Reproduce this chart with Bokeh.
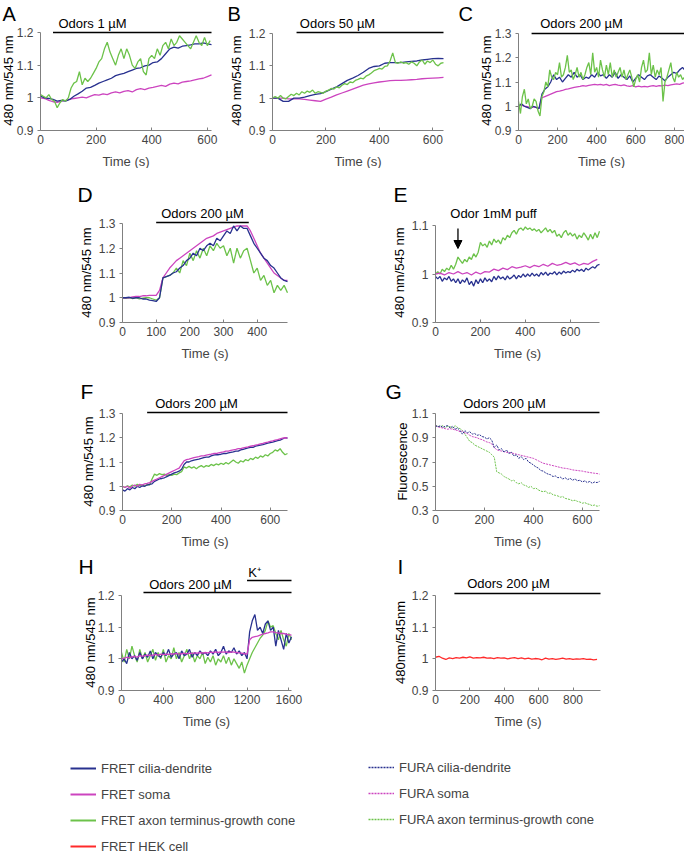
import numpy as np
from bokeh.plotting import figure
from bokeh.layouts import column, row
from bokeh.models import (Label, Arrow, NormalHead, FixedTicker, Legend, LegendItem,
                          Range1d, CustomJSTickFormatter, LinearAxis)
from bokeh.embed import file_html
from bokeh.resources import INLINE

# ======================= DATA =======================
# sampling interval of each trace (s); times = index * interval
A_dt_blue, A_dt_magenta, A_dt_green = 15, 15, 10
A_blue = [1.005, 1.0, 0.998, 0.995, 0.99, 0.992, 0.99, 0.995, 1.005, 1.012, 1.02, 1.03, 1.032, 1.038,
          1.045, 1.05, 1.055, 1.06, 1.068, 1.072, 1.075, 1.08, 1.085, 1.09, 1.092, 1.098, 1.1, 1.108,
          1.11, 1.12, 1.135, 1.15, 1.155, 1.152, 1.158, 1.16, 1.162, 1.165, 1.165, 1.168, 1.165, 1.163]
A_magenta = [1.0, 0.998, 0.992, 0.988, 0.986, 0.99, 0.992, 0.995, 0.998, 1.0, 1.002, 1.0, 1.005, 1.01,
             1.008, 1.012, 1.01, 1.015, 1.018, 1.015, 1.02, 1.022, 1.018, 1.025, 1.028, 1.025, 1.03,
             1.032, 1.035, 1.038, 1.035, 1.042, 1.045, 1.043, 1.048, 1.05, 1.052, 1.055, 1.058, 1.06,
             1.065, 1.07]
A_green = [1.01, 1.005, 1.0, 1.01, 0.995, 0.99, 0.97, 0.985, 0.995, 0.99, 1.0, 1.03, 1.045, 1.05, 1.08,
           1.04, 1.06, 1.05, 1.06, 1.075, 1.09, 1.11, 1.12, 1.15, 1.17, 1.14, 1.12, 1.1, 1.13, 1.15,
           1.12, 1.15, 1.13, 1.1, 1.09, 1.11, 1.12, 1.08, 1.07, 1.12, 1.13, 1.12, 1.15, 1.13, 1.16,
           1.17, 1.15, 1.18, 1.16, 1.17, 1.19, 1.18, 1.17, 1.16, 1.15, 1.17, 1.19, 1.17, 1.16, 1.185,
           1.16, 1.175]
A_odor = (45, 615)

B_dt_blue, B_dt_magenta, B_dt_green = 20, 20, 10
B_blue = [1.0, 1.0, 0.99, 0.99, 1.0, 1.0, 1.003, 1.008, 1.012, 1.014, 1.02, 1.028, 1.035, 1.045, 1.055,
          1.062, 1.07, 1.08, 1.092, 1.098, 1.1, 1.108, 1.11, 1.11, 1.11, 1.112, 1.114, 1.115, 1.118,
          1.12, 1.122, 1.123, 1.122]
B_magenta = [1.0, 1.0, 1.0, 0.998, 0.998, 0.998, 0.996, 0.994, 0.992, 0.99, 0.997, 1.003, 1.01, 1.016,
             1.022, 1.028, 1.034, 1.04, 1.044, 1.047, 1.05, 1.052, 1.054, 1.055, 1.055, 1.056, 1.057,
             1.058, 1.06, 1.061, 1.062, 1.063, 1.064]
B_green = [1.0, 1.005, 1.0, 1.008, 1.0, 0.998, 1.005, 1.012, 1.008, 1.015, 1.01, 1.02, 1.015, 1.022,
           1.018, 1.025, 1.015, 1.02, 1.018, 1.015, 1.022, 1.025, 1.03, 1.028, 1.035, 1.032, 1.04,
           1.045, 1.042, 1.05, 1.048, 1.055, 1.058, 1.062, 1.06, 1.068, 1.072, 1.078, 1.085, 1.088,
           1.092, 1.09, 1.098, 1.1, 1.115, 1.14, 1.11, 1.108, 1.112, 1.108, 1.11, 1.105, 1.112, 1.108,
           1.1, 1.112, 1.118, 1.105, 1.115, 1.11, 1.118, 1.105, 1.1, 1.108, 1.11]
B_odor = (90, 640)

C_dt_blue, C_dt_magenta, C_dt_green = 15, 15, 10
C_blue = [1.0, 1.01, 1.0, 0.995, 0.99, 1.0, 0.995, 0.99, 1.05, 1.07, 1.08, 1.1, 1.13, 1.11, 1.12, 1.1,
          1.115, 1.13, 1.12, 1.14, 1.12, 1.13, 1.11, 1.12, 1.115, 1.13, 1.12, 1.14, 1.125, 1.13, 1.115,
          1.13, 1.12, 1.14, 1.115, 1.13, 1.12, 1.11, 1.125, 1.1, 1.115, 1.13, 1.12, 1.11, 1.125, 1.13,
          1.12, 1.11, 1.125, 1.115, 1.105, 1.12, 1.13, 1.14, 1.135, 1.15, 1.16, 1.145]
C_magenta = [1.0, 1.005, 1.0, 0.998, 0.995, 0.997, 0.995, 0.99, 1.035, 1.04, 1.045, 1.05, 1.055, 1.06,
             1.062, 1.065, 1.07, 1.072, 1.075, 1.078, 1.08, 1.082, 1.085, 1.083, 1.086, 1.088, 1.09,
             1.088, 1.09, 1.087, 1.09, 1.085, 1.088, 1.09, 1.087, 1.085, 1.088, 1.084, 1.082, 1.085,
             1.08, 1.083, 1.08, 1.082, 1.08, 1.083, 1.085, 1.082, 1.085, 1.084, 1.087, 1.085, 1.088,
             1.09, 1.092, 1.09, 1.095, 1.098]
C_green = [1.02, 0.97, 1.04, 1.07, 1.01, 1.03, 0.99, 1.0, 1.03, 1.02, 0.98, 0.96, 1.04, 1.06, 1.1, 1.08,
           1.15, 1.12, 1.11, 1.14, 1.13, 1.18, 1.12, 1.13, 1.16, 1.21, 1.14, 1.15, 1.11, 1.13, 1.16,
           1.12, 1.14, 1.11, 1.13, 1.16, 1.18, 1.13, 1.22, 1.14, 1.16, 1.12, 1.19, 1.15, 1.12, 1.17,
           1.13, 1.18, 1.12, 1.15, 1.12, 1.14, 1.16, 1.12, 1.15, 1.11, 1.13, 1.15, 1.12, 1.08, 1.11,
           1.13, 1.1, 1.16, 1.19, 1.14, 1.15, 1.22, 1.13, 1.17, 1.12, 1.15, 1.13, 1.16, 1.02, 1.1,
           1.12, 1.15, 1.18, 1.12, 1.1, 1.14, 1.12, 1.13, 1.11, 1.12]
C_odor = (67, 850)

D_dt = 10
D_blue = [1.0, 1.0, 1.002, 0.998, 1.0, 1.0, 0.995, 0.995, 0.99, 0.988, 0.985, 1.0, 1.08, 1.085, 1.09,
          1.1, 1.105, 1.12, 1.13, 1.15, 1.16, 1.18, 1.17, 1.2, 1.19, 1.21, 1.22, 1.21, 1.24, 1.23, 1.25,
          1.27, 1.26, 1.29, 1.27, 1.29, 1.28, 1.28, 1.25, 1.22, 1.2, 1.18, 1.16, 1.15, 1.13, 1.12, 1.1,
          1.08, 1.07, 1.065]
D_magenta = [1.0, 1.0, 1.0, 1.003, 1.005, 1.005, 1.008, 1.008, 1.01, 1.01, 1.01, 1.03, 1.08, 1.1, 1.12,
             1.135, 1.15, 1.16, 1.17, 1.18, 1.19, 1.2, 1.21, 1.22, 1.23, 1.24, 1.245, 1.25, 1.26,
             1.265, 1.27, 1.275, 1.28, 1.285, 1.29, 1.29, 1.29, 1.29, 1.27, 1.24, 1.21, 1.18, 1.16,
             1.14, 1.12, 1.1, 1.09, 1.08, 1.07, 1.07]
D_green = [1.0, 0.998, 1.0, 0.996, 1.0, 0.995, 0.998, 1.0, 1.0, 0.995, 0.99, 1.0, 1.08, 1.085, 1.09,
           1.1, 1.12, 1.1, 1.15, 1.13, 1.18, 1.15, 1.19, 1.16, 1.2, 1.17, 1.21, 1.19, 1.22, 1.2, 1.21,
           1.17, 1.2, 1.14, 1.2, 1.16, 1.19, 1.2, 1.15, 1.1, 1.12, 1.07, 1.09, 1.05, 1.07, 1.02, 1.05,
           1.03, 1.05, 1.02]
D_odor = (100, 375)

E_dt_blue, E_dt_magenta, E_dt_green = 10, 20, 10
E_green = [1.0, 1.005, 1.0, 1.01, 1.005, 1.012, 1.008, 1.018, 1.01, 1.02, 1.035, 1.028, 1.022, 1.03,
           1.025, 1.035, 1.03, 1.042, 1.035, 1.045, 1.065, 1.058, 1.062, 1.055, 1.068, 1.06, 1.072,
           1.065, 1.07, 1.062, 1.075, 1.07, 1.08, 1.075, 1.085, 1.09, 1.082, 1.092, 1.095, 1.09,
           1.097, 1.092, 1.095, 1.09, 1.093, 1.088, 1.092, 1.085, 1.09, 1.095, 1.087, 1.092, 1.085,
           1.09, 1.078, 1.082, 1.075, 1.085, 1.09, 1.08, 1.085, 1.078, 1.083, 1.072, 1.08, 1.075,
           1.085, 1.078, 1.07, 1.082, 1.072, 1.085, 1.075, 1.088]
E_magenta = [1.0, 1.002, 0.998, 1.003, 1.0, 1.005, 1.0, 1.003, 0.998, 1.004, 1.0, 1.005, 1.004, 1.01,
             1.007, 1.012, 1.009, 1.015, 1.012, 1.014, 1.017, 1.013, 1.018, 1.015, 1.02, 1.016, 1.022,
             1.018, 1.02, 1.024, 1.02, 1.023, 1.018, 1.022, 1.02, 1.026, 1.03]
E_blue = [0.995, 0.99, 0.995, 0.985, 0.992, 0.988, 0.995, 0.985, 0.99, 0.982, 0.99, 0.98, 0.988, 0.983,
          0.992, 0.978, 0.985, 0.975, 0.988, 0.98, 0.99, 0.982, 0.992, 0.985, 0.99, 0.984, 0.995, 0.988,
          0.996, 0.99, 0.994, 0.988, 0.996, 0.99, 0.993, 0.998, 0.99, 0.997, 0.993, 1.0, 0.994, 1.0,
          0.995, 1.002, 0.996, 1.0, 0.995, 1.003, 0.998, 1.004, 0.997, 1.002, 1.0, 1.005, 0.998, 1.004,
          1.0, 1.006, 1.002, 1.005, 1.003, 1.008, 1.004, 1.01, 1.006, 1.01, 1.005, 1.012, 1.008, 1.012,
          1.015, 1.012, 1.018, 1.02]
E_puff = 100

F_dt = 10
F_blue = [0.985, 0.98, 0.99, 0.985, 0.995, 0.99, 1.0, 0.995, 1.002, 1.0, 1.005, 1.008, 1.01, 1.02,
          1.025, 1.03, 1.032, 1.035, 1.04, 1.045, 1.05, 1.055, 1.058, 1.062, 1.07, 1.09, 1.1, 1.1,
          1.105, 1.108, 1.11, 1.112, 1.115, 1.118, 1.12, 1.12, 1.125, 1.128, 1.13, 1.13, 1.132, 1.135,
          1.135, 1.138, 1.14, 1.142, 1.145, 1.145, 1.15, 1.152, 1.155, 1.158, 1.16, 1.16, 1.165, 1.168,
          1.17, 1.172, 1.175, 1.178, 1.18, 1.182, 1.185, 1.188, 1.19, 1.195, 1.2, 1.198]
F_magenta = [1.0, 0.995, 1.0, 0.992, 1.0, 1.005, 1.0, 1.008, 1.005, 1.01, 1.012, 1.015, 1.02, 1.025,
             1.03, 1.035, 1.04, 1.045, 1.05, 1.055, 1.06, 1.065, 1.07, 1.075, 1.09, 1.105, 1.11, 1.112,
             1.115, 1.118, 1.12, 1.122, 1.125, 1.125, 1.128, 1.13, 1.132, 1.135, 1.135, 1.138, 1.14,
             1.142, 1.145, 1.145, 1.148, 1.15, 1.152, 1.155, 1.155, 1.158, 1.16, 1.162, 1.165, 1.167,
             1.17, 1.172, 1.175, 1.177, 1.18, 1.182, 1.185, 1.187, 1.19, 1.192, 1.195, 1.198, 1.2, 1.198]
F_green = [1.0, 0.995, 1.002, 0.998, 1.005, 1.0, 1.008, 1.002, 1.006, 1.0, 1.008, 1.005, 1.03, 1.05,
           1.045, 1.052, 1.048, 1.05, 1.045, 1.048, 1.045, 1.05, 1.048, 1.055, 1.06, 1.08, 1.075, 1.082,
           1.075, 1.08, 1.072, 1.08, 1.085, 1.078, 1.085, 1.082, 1.09, 1.085, 1.092, 1.088, 1.095,
           1.09, 1.098, 1.092, 1.1, 1.108, 1.1, 1.095, 1.105, 1.1, 1.11, 1.105, 1.115, 1.11, 1.12,
           1.115, 1.125, 1.12, 1.13, 1.125, 1.135, 1.14, 1.15, 1.145, 1.155, 1.14, 1.13, 1.135]
F_odor = (100, 670)

G_dt = 10
G_blue = [1.0, 0.99, 1.0, 0.985, 0.995, 1.0, 0.98, 0.995, 0.97, 0.98, 0.96, 0.93, 0.96, 0.94, 0.95,
          0.93, 0.935, 0.92, 0.925, 0.91, 0.905, 0.89, 0.9, 0.88, 0.82, 0.84, 0.8, 0.81, 0.78, 0.8,
          0.77, 0.78, 0.75, 0.76, 0.73, 0.745, 0.72, 0.73, 0.7, 0.69, 0.675, 0.66, 0.65, 0.63, 0.625,
          0.61, 0.6, 0.595, 0.58, 0.585, 0.57, 0.575, 0.56, 0.57, 0.555, 0.565, 0.55, 0.56, 0.545,
          0.55, 0.535, 0.545, 0.53, 0.54, 0.525, 0.535, 0.53, 0.54]
G_magenta = [1.0, 0.99, 0.985, 0.98, 0.975, 0.97, 0.975, 0.97, 0.965, 0.96, 0.95, 0.955, 0.94, 0.935,
             0.92, 0.91, 0.905, 0.9, 0.89, 0.885, 0.875, 0.865, 0.86, 0.85, 0.82, 0.8, 0.795, 0.79,
             0.785, 0.78, 0.778, 0.775, 0.77, 0.765, 0.76, 0.755, 0.75, 0.745, 0.74, 0.735, 0.73,
             0.72, 0.71, 0.7, 0.69, 0.685, 0.68, 0.675, 0.67, 0.665, 0.66, 0.655, 0.65, 0.648, 0.645,
             0.64, 0.635, 0.632, 0.63, 0.627, 0.625, 0.62, 0.617, 0.613, 0.61, 0.607, 0.605, 0.6]
G_green = [1.0, 0.995, 0.99, 1.0, 0.985, 0.995, 0.99, 0.98, 1.0, 0.985, 0.975, 0.96, 0.93, 0.9, 0.87,
           0.86, 0.84, 0.83, 0.82, 0.81, 0.8, 0.79, 0.78, 0.76, 0.74, 0.62, 0.61, 0.6, 0.58, 0.57,
           0.56, 0.545, 0.55, 0.53, 0.52, 0.53, 0.51, 0.505, 0.49, 0.5, 0.48, 0.485, 0.47, 0.46,
           0.455, 0.46, 0.44, 0.445, 0.43, 0.425, 0.42, 0.41, 0.415, 0.4, 0.395, 0.39, 0.38, 0.385,
           0.375, 0.37, 0.36, 0.365, 0.355, 0.35, 0.34, 0.345, 0.335, 0.34]
G_odor = (100, 670)

H_dt = 25
H_blue = [0.99, 1.0, 0.985, 1.02, 1.0, 1.01, 0.995, 1.02, 1.0, 1.015, 1.005, 1.025, 1.0, 1.02, 1.01,
          1.005, 1.02, 1.01, 1.03, 1.005, 1.015, 1.02, 1.0, 1.025, 1.01, 1.015, 1.03, 1.005, 1.02,
          1.01, 1.025, 1.015, 1.02, 1.01, 1.025, 1.015, 1.03, 1.01, 1.02, 1.04, 1.015, 1.025, 1.02,
          1.035, 1.015, 1.025, 1.01, 1.02, 1.0, 1.085, 1.12, 1.14, 1.09, 1.1, 1.08, 1.11, 1.12, 1.09,
          1.1, 1.04, 1.09, 1.06, 1.03, 1.08, 1.05, 1.07]
H_magenta = [1.0, 1.002, 1.005, 1.003, 1.006, 1.008, 1.005, 1.01, 1.008, 1.01, 1.012, 1.01, 1.012,
             1.014, 1.012, 1.015, 1.013, 1.015, 1.014, 1.016, 1.015, 1.017, 1.015, 1.016, 1.018,
             1.016, 1.018, 1.017, 1.019, 1.018, 1.02, 1.018, 1.02, 1.019, 1.021, 1.02, 1.022, 1.02,
             1.022, 1.021, 1.022, 1.02, 1.022, 1.021, 1.02, 1.019, 1.018, 1.016, 1.015, 1.06, 1.068,
             1.07, 1.072, 1.075, 1.078, 1.08, 1.082, 1.085, 1.085, 1.083, 1.082, 1.08, 1.08, 1.078,
             1.076, 1.075]
H_green = [1.02, 0.99, 1.03, 1.0, 1.04, 1.01, 0.99, 1.03, 1.0, 1.02, 0.99, 1.01, 1.03, 0.995, 1.02,
           1.0, 1.03, 0.99, 1.01, 1.0, 1.035, 1.0, 1.02, 0.99, 1.01, 1.03, 1.0, 1.02, 0.99, 1.01, 1.0,
           1.02, 0.985, 1.005, 0.99, 1.01, 0.98, 1.0, 0.99, 1.01, 0.985, 1.005, 0.98, 1.0, 0.985,
           0.97, 0.99, 0.955, 0.98, 1.0, 1.02, 1.035, 1.05, 1.065, 1.075, 1.09, 1.12, 1.1, 1.105,
           1.08, 1.06, 1.09, 1.06, 1.04, 1.08, 1.06]
H_odor = (210, 1625)
H_k = (1200, 1625)

I_dt = 20
I_red = [1.005, 1.008, 1.002, 0.998, 1.003, 1.001, 1.004, 1.002, 1.005, 1.003, 1.006, 1.002, 1.004,
         1.003, 1.005, 1.002, 1.003, 1.001, 1.004, 1.002, 1.003, 1.0, 1.002, 1.004, 1.001, 1.003, 1.0,
         1.002, 0.999, 1.001, 1.0, 0.997, 1.002, 0.999, 1.001, 0.998, 1.0, 1.002, 0.999, 1.001, 0.998,
         1.0, 0.999, 1.001, 0.998, 0.999, 0.997, 0.998]
I_odor = (110, 960)

A_xticks, A_yticks = [0, 200, 400, 600], [0.9, 1.0, 1.1, 1.2]
B_xticks, B_yticks = [0, 200, 400, 600], [0.9, 1.0, 1.1, 1.2]
C_xticks, C_yticks = [0, 200, 400, 600, 800], [0.9, 1.0, 1.1, 1.2, 1.3]
D_xticks, D_yticks = [0, 100, 200, 300, 400], [0.9, 1.0, 1.1, 1.2, 1.3]
E_xticks, E_yticks = [0, 200, 400, 600], [0.9, 1.0, 1.1]
F_xticks, F_yticks = [0, 200, 400, 600], [0.9, 1.0, 1.1, 1.2, 1.3]
G_xticks, G_yticks = [0, 200, 400, 600], [0.3, 0.5, 0.7, 0.9, 1.1]
H_xticks, H_yticks = [0, 400, 800, 1200, 1600], [0.9, 1.0, 1.1, 1.2]
I_xticks, I_yticks = [0, 200, 400, 600, 800], [0.9, 1.0, 1.1, 1.2]

legend_left = ["FRET cilia-dendrite", "FRET soma", "FRET axon terminus-growth cone"]
legend_right = ["FURA cilia-dendrite", "FURA soma", "FURA axon terminus-growth cone"]
legend_hek = "FRET HEK cell"

# ======================= STYLE / LAYOUT =======================
FONT = "Liberation Sans"
BLUE, MAGENTA, GREEN, RED = "#28318f", "#cc44bf", "#6cc24a", "#ff2a2a"
AXIS_COL = "#808080"


class Panel:
    """canvas = (x0, y0, x1, y1) page box of the figure; the frame fills the whole canvas.
    axis_x0 / axis_x1: page x of data x=start / x=end; axis_y: page y of the x axis;
    y_ref_img: page y of the top y tick."""

    def __init__(self, canvas, axis_x0, axis_x1, axis_y, xr, yticks, y_ref_img, xticks):
        fx0, fy0, fx1, fy1 = canvas
        self.canvas = canvas
        sx = (axis_x1 - axis_x0) / (xr[1] - xr[0])
        ymin, ytt = yticks[0], yticks[-1]
        sy = (axis_y - y_ref_img) / (ytt - ymin)
        self.sy, self.ymin, self.axis_y = sy, ymin, axis_y
        x_start = xr[0] - (axis_x0 - fx0) / sx
        x_end = xr[1] + (fx1 - axis_x1) / sx
        y_start = ymin - (fy1 - axis_y) / sy
        y_end = ymin + (axis_y - fy0) / sy
        p = figure(width=fx1 - fx0, height=fy1 - fy0,
                   x_range=Range1d(x_start, x_end), y_range=Range1d(y_start, y_end),
                   x_axis_location=None, y_axis_location=None,
                   min_border_left=0, min_border_right=0, min_border_top=0, min_border_bottom=0,
                   output_backend="svg", toolbar_location=None)
        p.outline_line_color = None
        p.grid.visible = False
        p.background_fill_color = "white"
        p.border_fill_color = "white"

        xa = LinearAxis(fixed_location=ymin, bounds=(xr[0], xr[1]), ticker=FixedTicker(ticks=xticks))
        xa.axis_label = "Time (s)"
        xa.axis_label_text_font = FONT
        xa.axis_label_text_font_size = "13px"
        xa.axis_label_text_font_style = "normal"
        xa.axis_label_standoff = 7
        xa.major_label_text_font = FONT
        xa.major_label_text_font_size = "12px"
        xa.major_label_standoff = 4
        xa.major_tick_in = 3
        xa.major_tick_out = 0
        xa.minor_tick_line_color = None
        xa.axis_line_color = AXIS_COL
        xa.major_tick_line_color = AXIS_COL
        p.add_layout(xa, "below")

        ya = LinearAxis(fixed_location=xr[0], bounds=(ymin, ytt), ticker=FixedTicker(ticks=yticks))
        ya.formatter = CustomJSTickFormatter(code="return String(Math.round(tick*10)/10)")
        ya.major_label_text_font = FONT
        ya.major_label_text_font_size = "12px"
        ya.major_label_standoff = 4
        ya.major_tick_in = 0
        ya.major_tick_out = 3
        ya.minor_tick_line_color = None
        ya.axis_line_color = AXIS_COL
        ya.major_tick_line_color = AXIS_COL
        p.add_layout(ya, "left")
        self.p = p

    def y_of(self, Y):
        return self.ymin + (self.axis_y - Y) / self.sy

    def label(self, X, Y, text, size="13px", align="center", angle=0.0):
        fx0, fy0, fx1, fy1 = self.canvas
        self.p.add_layout(Label(x=X - fx0, y=fy1 - Y, x_units="screen", y_units="screen",
                                text=text, text_font=FONT, text_font_size=size,
                                text_align=align, text_baseline="middle", angle=angle,
                                text_color="black"))

    def trace(self, vals, dt, color, dash="solid", width=1.3):
        t = np.arange(len(vals)) * dt
        self.p.line(t, vals, line_color=color, line_width=width, line_dash=dash)

    def bar(self, span, Y):
        y = self.y_of(Y)
        self.p.segment(x0=[span[0]], x1=[span[1]], y0=[y], y1=[y], line_color="black", line_width=1.3)


# ---- row 1 ----
pA = Panel((0, 0, 225, 168), 40, 211, 130, (0, 615), A_yticks, 32, A_xticks)
pA.trace(A_magenta, A_dt_magenta, MAGENTA)
pA.trace(A_blue, A_dt_blue, BLUE)
pA.trace(A_green, A_dt_green, GREEN)
pA.bar(A_odor, 32)
pA.label(92, 23, "Odors 1 µM")
pA.label(2, 13, "A", size="20px", align="left")
pA.label(8, 80, "480 nm/545 nm", angle=np.pi / 2)

pB = Panel((225, 0, 455, 168), 272, 443, 130, (0, 640), B_yticks, 33, B_xticks)
pB.trace(B_magenta, B_dt_magenta, MAGENTA)
pB.trace(B_blue, B_dt_blue, BLUE)
pB.trace(B_green, B_dt_green, GREEN)
pB.bar(B_odor, 32)
pB.label(337, 23, "Odors 50 µM")
pB.label(227, 13, "B", size="20px", align="left")
pB.label(236, 80, "480 nm/545 nm", angle=np.pi / 2)

pC = Panel((455, 0, 684, 168), 518, 684, 130, (0, 850), C_yticks, 33, C_xticks)
pC.trace(C_magenta, C_dt_magenta, MAGENTA)
pC.trace(C_blue, C_dt_blue, BLUE)
pC.trace(C_green, C_dt_green, GREEN)
pC.bar(C_odor, 33)
pC.label(581, 23, "Odors 200 µM")
pC.label(458, 13, "C", size="20px", align="left")
pC.label(486, 80, "480 nm/545 nm", angle=np.pi / 2)

# ---- row 2 ----
pD = Panel((0, 168, 340, 362), 122, 287, 322, (0, 490), D_yticks, 223, D_xticks)
pD.trace(D_green, D_dt, GREEN)
pD.trace(D_magenta, D_dt, MAGENTA)
pD.trace(D_blue, D_dt, BLUE)
pD.bar(D_odor, 222)
pD.label(202, 213, "Odors 200 µM")
pD.label(77, 194, "D", size="21px", align="left")
pD.label(86, 272, "480 nm/545 nm", angle=np.pi / 2)

pE = Panel((340, 168, 684, 362), 435, 599, 322, (0, 730), E_yticks, 225, E_xticks)
pE.trace(E_green, E_dt_green, GREEN)
pE.trace(E_magenta, E_dt_magenta, MAGENTA)
pE.trace(E_blue, E_dt_blue, BLUE)
pE.label(493, 213, "Odor 1mM puff")
pE.label(393, 194, "E", size="21px", align="left")
pE.label(399, 272, "480 nm/545 nm", angle=np.pi / 2)
pE.p.add_layout(Arrow(end=NormalHead(size=8, fill_color="black", line_color="black"),
                      x_start=E_puff, x_end=E_puff, y_start=pE.y_of(228), y_end=pE.y_of(248),
                      line_color="black", line_width=1.3))

# ---- row 3 ----
pF = Panel((0, 362, 340, 552), 122, 287, 510, (0, 670), F_yticks, 413, F_xticks)
pF.trace(F_green, F_dt, GREEN)
pF.trace(F_blue, F_dt, BLUE)
pF.trace(F_magenta, F_dt, MAGENTA)
pF.bar(F_odor, 412)
pF.label(196, 403, "Odors 200 µM")
pF.label(80, 391, "F", size="21px", align="left")
pF.label(88, 461, "480 nm/545 nm", angle=np.pi / 2)

pG = Panel((340, 362, 684, 552), 435, 599, 510, (0, 670), G_yticks, 413, G_xticks)
pG.trace(G_green, G_dt, GREEN, dash="2 1", width=1.0)
pG.trace(G_magenta, G_dt, MAGENTA, dash="2 1", width=1.0)
pG.trace(G_blue, G_dt, BLUE, dash="2 1", width=1.0)
pG.bar(G_odor, 412)
pG.label(504, 403, "Odors 200 µM")
pG.label(385, 391, "G", size="21px", align="left")
pG.label(402, 461, "Fluorescence", angle=np.pi / 2)

# ---- row 4 ----
pH = Panel((0, 552, 340, 745), 121, 291, 690, (0, 1625), H_yticks, 595, H_xticks)
pH.trace(H_green, H_dt, GREEN)
pH.trace(H_blue, H_dt, BLUE)
pH.trace(H_magenta, H_dt, MAGENTA)
pH.bar(H_odor, 592)
pH.bar(H_k, 580)
pH.label(190, 584, "Odors 200 µM")
pH.label(254, 572, "K⁺")
pH.label(78, 566, "H", size="21px", align="left")
pH.label(90, 642, "480 nm/545 nm", angle=np.pi / 2)

pI = Panel((340, 552, 684, 745), 435, 600, 690, (0, 960), I_yticks, 595, I_xticks)
pI.trace(I_red, I_dt, RED)
pI.bar(I_odor, 593)
pI.label(508, 583, "Odors 200 µM")
pI.label(397, 566, "I", size="21px", align="left")
pI.label(400, 642, "480nm/545nm", angle=np.pi / 2)

# ---- legend ----
LEG_TOP, LEG_BOTTOM = 745, 853
lg = figure(width=684, height=LEG_BOTTOM - LEG_TOP, x_range=Range1d(0, 1), y_range=Range1d(0, 1),
            x_axis_location=None, y_axis_location=None, toolbar_location=None,
            output_backend="svg", min_border_left=0, min_border_right=0,
            min_border_top=0, min_border_bottom=0)
lg.outline_line_color = None
lg.grid.visible = False

# legend swatch renderers: their samples lie outside the visible range
swatch_x, swatch_y = [5, 6], [5, 6]
left_cols = [BLUE, MAGENTA, GREEN]
left_r = [lg.line(x=swatch_x, y=swatch_y, line_color=c, line_width=2) for c in left_cols]
right_r = [lg.line(x=swatch_x, y=swatch_y, line_color=c, line_width=1.4, line_dash="2 1")
           for c in left_cols]
hek_r = lg.line(x=swatch_x, y=swatch_y, line_color=RED, line_width=2)


def add_legend(labels, rends, X, Ybottom):
    # tuple location = (left, bottom) measured from the canvas bottom-left
    L = Legend(items=[LegendItem(label=l, renderers=[r]) for l, r in zip(labels, rends)],
               location=(X, LEG_BOTTOM - Ybottom), orientation="vertical",
               glyph_width=26, glyph_height=20, label_height=20, spacing=6, padding=0, margin=0,
               label_standoff=5, border_line_color=None, background_fill_alpha=0,
               label_text_font=FONT, label_text_font_size="13px")
    lg.add_layout(L)


add_legend(legend_left, left_r, 70, 830)
add_legend(legend_right, right_r, 368, 829)
add_legend([legend_hek], [hek_r], 70, 856)

layout = column(row(pA.p, pB.p, pC.p), row(pD.p, pE.p), row(pF.p, pG.p), row(pH.p, pI.p), lg)
open("out.html", "w").write(file_html(layout, INLINE))
